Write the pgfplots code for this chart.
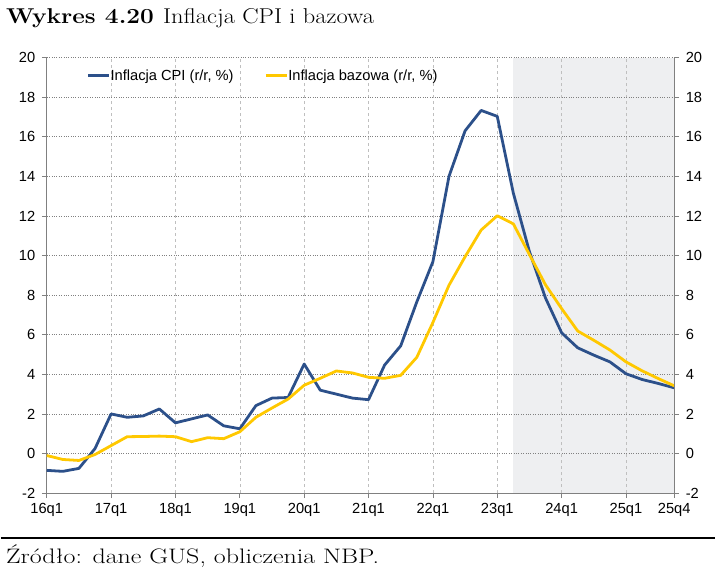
\documentclass[border=0pt]{standalone}
\usepackage{fontspec}
\usepackage{pgfplots}
\pgfplotsset{compat=1.18}
\newfontfamily\arial{Liberation Sans}
\definecolor{cpiblue}{RGB}{44,80,138}
\definecolor{coreyel}{RGB}{255,200,0}
\definecolor{shade}{RGB}{238,239,241}
\definecolor{axgray}{RGB}{128,128,128}
\begin{document}
\begin{tikzpicture}
\path (0pt,0pt) rectangle (716pt,582pt);
\node[anchor=base west, inner sep=0pt] at (5pt,558pt) {\scalebox{1.14}[1]{\fontsize{21.5}{24}\selectfont\bfseries Wykres 4.20 \mdseries Inflacja CPI i bazowa}};
\draw[line width=1.7pt] (0pt,42.7pt) -- (716pt,42.7pt);
\node[anchor=base west, inner sep=0pt] at (5pt,17pt) {\scalebox{1.24}[1]{\fontsize{21}{24}\selectfont Źródło: dane GUS, obliczenia NBP.}};
\begin{axis}[
  at={(46pt,87.7pt)}, anchor=south west,
  width=629pt, height=436.6pt, scale only axis,
  set layers,
  xmin=0, xmax=39, ymin=-2, ymax=20,
  axis x line*=bottom, axis y line*=left,
  axis line style={axgray, line width=0.9pt},
  xtick={0,4,8,12,16,20,24,28,32,36,39},
  xticklabels={16q1,17q1,18q1,19q1,20q1,21q1,22q1,23q1,24q1,25q1,25q4},
  ytick={-2,0,...,20},
  tick align=outside, major tick length=5pt,
  tick style={axgray, line width=0.8pt},
  tick label style={font=\arial\fontsize{14.7}{17}\selectfont, text=black},
  xticklabel style={yshift=-2pt},
  yticklabel style={xshift=-3pt},
  /pgf/number format/assume math mode=true,
  xmajorgrids, ymajorgrids,
  x grid style={dashed, color=black!25, line width=0.6pt},
  y grid style={dotted, color=black!50, line width=0.8pt},
  legend style={at={(0.0636,0.958)}, anchor=west, draw=none, fill=none,
    legend columns=2, font=\arial\fontsize{14.7}{17}\selectfont,
    inner sep=0pt, nodes={inner xsep=0pt, inner ysep=1pt},
    /tikz/every even column/.append style={column sep=31pt}},
  legend image code/.code={\draw[#1] (0pt,0pt) -- (21pt,0pt);},
]
\addplot[fill=shade, draw=none, on layer=axis background, forget plot] coordinates {(29,-2) (29,20) (39,20) (39,-2)} -- cycle;
\addplot[cpiblue, line width=2.8pt, line join=round] coordinates {
(0,-0.85) (1,-0.9) (2,-0.75) (3,0.25) (4,2.0) (5,1.83) (6,1.9) (7,2.25) (8,1.55) (9,1.75)
(10,1.95) (11,1.4) (12,1.25) (13,2.42) (14,2.8) (15,2.83) (16,4.52) (17,3.2) (18,3.0) (19,2.8)
(20,2.72) (21,4.47) (22,5.44) (23,7.66) (24,9.69) (25,14.0) (26,16.3) (27,17.33) (28,17.03) (29,13.15)
(30,10.2) (31,7.85) (32,6.1) (33,5.34) (34,4.97) (35,4.63) (36,4.03) (37,3.74) (38,3.54) (39,3.32)};
\addlegendentry{Inflacja CPI (r/r, \%)}
\addplot[coreyel, line width=2.8pt, line join=round] coordinates {
(0,-0.1) (1,-0.3) (2,-0.35) (3,-0.05) (4,0.4) (5,0.85) (6,0.86) (7,0.88) (8,0.85) (9,0.6)
(10,0.8) (11,0.75) (12,1.1) (13,1.83) (14,2.3) (15,2.75) (16,3.45) (17,3.8) (18,4.17) (19,4.07)
(20,3.85) (21,3.8) (22,3.95) (23,4.86) (24,6.62) (25,8.5) (26,9.94) (27,11.29) (28,12.01) (29,11.6)
(30,10.05) (31,8.52) (32,7.32) (33,6.19) (34,5.72) (35,5.23) (36,4.63) (37,4.18) (38,3.79) (39,3.42)};
\addlegendentry{Inflacja bazowa (r/r, \%)}
\end{axis}
\begin{axis}[
  at={(46pt,87.7pt)}, anchor=south west,
  width=629pt, height=436.6pt, scale only axis,
  xmin=0, xmax=39, ymin=-2, ymax=20,
  axis x line=none, axis y line*=right,
  axis line style={axgray, line width=0.9pt},
  ytick={-2,0,...,20},
  tick align=outside, major tick length=5pt,
  tick style={axgray, line width=0.8pt},
  tick label style={font=\arial\fontsize{14.7}{17}\selectfont, text=black},
  yticklabel style={xshift=3pt},
  /pgf/number format/assume math mode=true,
]
\end{axis}
\end{tikzpicture}
\end{document}
